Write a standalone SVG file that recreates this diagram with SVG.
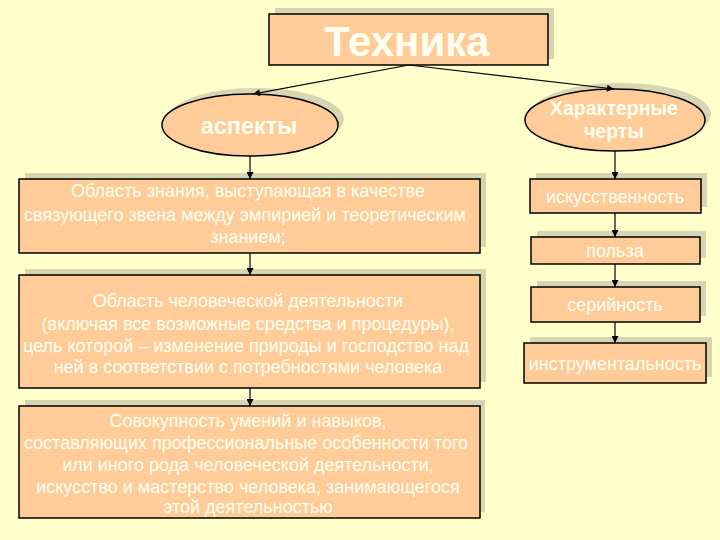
<svg xmlns="http://www.w3.org/2000/svg" width="720" height="540" viewBox="0 0 720 540">
<defs>
<style>
.box{fill:#FFCC99;stroke:#000;stroke-width:1.5}
.sh{fill:#D8D5B2}
.t{fill:#FFFFF0;font-family:"Liberation Sans",Arial,sans-serif;text-anchor:middle}
.b{font-size:18px}
.c{stroke:#000;stroke-width:1.2;fill:none;marker-end:url(#ah)}
</style>
<marker id="ah" viewBox="0 0 10 10" refX="10" refY="5" markerWidth="8" markerHeight="7" orient="auto" markerUnits="userSpaceOnUse">
<path d="M0,0 L10,5 L0,10 z" fill="#000"/>
</marker>
</defs>
<rect width="720" height="540" fill="#FFFFCC"/>
<g id="tehnika">
<rect class="sh" x="275" y="8" width="279" height="51"/>
<rect class="box" x="269" y="14" width="279" height="51"/>
<text class="t" x="407" y="56" font-size="42" font-weight="bold">Техника</text>
</g>
<g id="aspekty">
<ellipse class="sh" cx="256" cy="119" rx="88" ry="31"/>
<ellipse class="box" cx="250" cy="125" rx="88" ry="31"/>
<text class="t" x="249" y="134" font-size="23.5" font-weight="bold">аспекты</text>
</g>
<g id="harakternye">
<ellipse class="sh" cx="621" cy="114" rx="90" ry="31"/>
<ellipse class="box" cx="615" cy="120" rx="90" ry="31"/>
<text class="t" x="614" y="115" font-size="19.5" font-weight="bold">Характерные</text>
<text class="t" x="614" y="138" font-size="19.5" font-weight="bold">черты</text>
</g>
<g id="box1">
<rect class="sh" x="25" y="173" width="461" height="74"/>
<rect class="box" x="19" y="179" width="461" height="74"/>
<text class="t b" x="248" y="197">Область знания, выступающая в качестве</text>
<text class="t b" x="245" y="221">связующего звена между эмпирией и теоретическим</text>
<text class="t b" x="248" y="243">знанием;</text>
</g>
<g id="box2">
<rect class="sh" x="25" y="269" width="461" height="113"/>
<rect class="box" x="19" y="275" width="461" height="113"/>
<text class="t b" x="248" y="307">Область человеческой деятельности</text>
<text class="t b" x="248" y="330">(включая все возможные средства и процедуры),</text>
<text class="t b" x="246" y="352">цель которой – изменение природы и господство над</text>
<text class="t b" x="248" y="373">ней в соответствии с потребностями человека</text>
</g>
<g id="box3">
<rect class="sh" x="25" y="400" width="460" height="112"/>
<rect class="box" x="19" y="406" width="461" height="112"/>
<text class="t b" x="248" y="427">Совокупность умений и навыков,</text>
<text class="t b" x="246" y="449">составляющих профессиональные особенности того</text>
<text class="t b" x="248" y="471">или иного рода человеческой деятельности,</text>
<text class="t b" x="248" y="493">искусство и мастерство человека, занимающегося</text>
<text class="t b" x="248" y="513">этой деятельностью</text>
</g>
<g id="iskusstvennost">
<rect class="sh" x="536" y="173" width="171" height="34"/>
<rect class="box" x="530" y="179" width="171" height="34"/>
<text class="t b" x="615" y="203">искусственность</text>
</g>
<g id="polza">
<rect class="sh" x="537" y="231" width="169" height="27"/>
<rect class="box" x="531" y="237" width="169" height="27"/>
<text class="t b" x="615" y="257">польза</text>
</g>
<g id="seriynost">
<rect class="sh" x="537" y="281" width="169" height="35"/>
<rect class="box" x="531" y="287" width="169" height="35"/>
<text class="t b" x="615" y="311">серийность</text>
</g>
<g id="instrumentalnost">
<rect class="sh" x="530" y="337" width="182" height="40"/>
<rect class="box" x="524" y="343" width="182" height="40"/>
<text class="t b" x="615" y="370">инструментальность</text>
</g>
<g id="connectors">
<path class="c" d="M409,65 L253,94"/>
<path class="c" d="M409,65 L614,89"/>
<path class="c" d="M250,156 L250,179"/>
<path class="c" d="M250,253 L250,275"/>
<path class="c" d="M250,388 L250,406"/>
<path class="c" d="M615,151 L615,179"/>
<path class="c" d="M615,213 L615,237"/>
<path class="c" d="M615,264 L615,287"/>
<path class="c" d="M615,322 L615,343"/>
</g>
</svg>
